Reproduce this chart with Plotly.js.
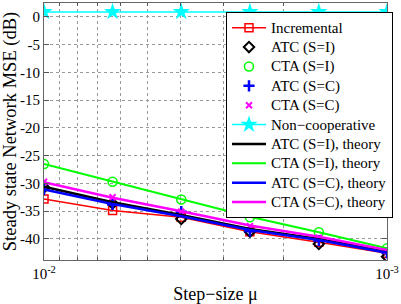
<!DOCTYPE html>
<html>
<head>
<meta charset="utf-8">
<script src="https://cdn.plot.ly/plotly-3.0.1.min.js"></script>
<style>
html,body{margin:0;padding:0;background:#fff;}
#chart{width:401px;height:304px;}
.legendtext{font-size:15px !important;}
</style>
</head>
<body>
<div id="chart"></div>
<script>
// Step sizes
const mu = [0.01, 0.00631, 0.00398, 0.00251, 0.00158, 0.001];
// Simulation results (dB)
const incremental = [-32.8, -34.9, -36.1, -38.7, -40.6, -42.6];
const atcI = [-30.7, -33.6, -36.4, -38.7, -40.9, -43.2];
const ctaI = [-26.5, -29.7, -32.9, -36.1, -38.8, -41.7];
const atcC = [-31.1, -33.8, -35.1, -38.6, -40.3, -42.5];
const ctaC = [-29.7, -32.5, -35.1, -37.7, -39.8, -42.2];
const nonCoop = [0.9, 0.9, 0.9, 0.9, 0.9, 0.9];
// Theory (dB)
const atcITheory = [-30.6, -33.4, -35.7, -38.2, -40.0, -42.3];
const ctaITheory = [-26.5, -29.7, -32.9, -36.0, -38.8, -41.7];
const atcCTheory = [-31.1, -33.7, -35.9, -38.4, -40.2, -42.5];
const ctaCTheory = [-29.8, -32.6, -35.0, -37.6, -39.6, -42.0];
// Tick labels
const xTickVals = [0.01, 0.001];
const xTickText = ['10<sup>-2</sup>', '10<sup>-3</sup>'];
const xMinorVals = [0.002, 0.003, 0.004, 0.005, 0.006, 0.007, 0.008, 0.009];
const yTickVals = [-40, -35, -30, -25, -20, -15, -10, -5, 0];
const yTickText = ['-40', '-35', '-30', '-25', '-20', '-15', '-10', '-5', '0'];

const serif = 'Liberation Serif, Times New Roman, serif';

const traces = [
  {x: mu, y: incremental, name: 'Incremental', mode: 'lines+markers',
   line: {color: '#ff0000', width: 1.5},
   marker: {symbol: 'square-open', size: 8, color: '#ff0000', line: {width: 1.5}}},
  {x: mu, y: atcI, name: 'ATC (S=I)', mode: 'markers',
   marker: {symbol: 'diamond-open', size: 8, color: '#000000', line: {width: 2}}},
  {x: mu, y: ctaI, name: 'CTA (S=I)', mode: 'markers',
   marker: {symbol: 'circle-open', size: 9, color: '#00ff00', line: {width: 1.5}}},
  {x: mu, y: atcC, name: 'ATC (S=C)', mode: 'markers',
   marker: {symbol: 'cross-thin-open', size: 8, color: '#0000ff', line: {width: 2.5, color: '#0000ff'}}},
  {x: mu, y: ctaC, name: 'CTA (S=C)', mode: 'markers',
   marker: {symbol: 'x-thin-open', size: 6, color: '#ff00ff', line: {width: 2, color: '#ff00ff'}}},
  {x: mu, y: nonCoop, name: 'Non\u2212cooperative', mode: 'lines+markers',
   line: {color: '#00ffff', width: 1.5},
   marker: {symbol: 'star', size: 13, color: '#00ffff'}},
  {x: mu, y: atcITheory, name: 'ATC (S=I), theory', mode: 'lines',
   line: {color: '#000000', width: 2.5}},
  {x: mu, y: ctaITheory, name: 'CTA (S=I), theory', mode: 'lines',
   line: {color: '#00ff00', width: 2}},
  {x: mu, y: atcCTheory, name: 'ATC (S=C), theory', mode: 'lines',
   line: {color: '#0000ff', width: 2.5}},
  {x: mu, y: ctaCTheory, name: 'CTA (S=C), theory', mode: 'lines',
   line: {color: '#ff00ff', width: 2.5}}
];

const layout = {
  width: 401, height: 304,
  margin: {l: 44, r: 14, t: 3, b: 44},
  paper_bgcolor: '#ffffff', plot_bgcolor: '#ffffff',
  font: {family: serif, size: 13, color: '#000000'},
  showlegend: true,
  legend: {x: 1.0175, xanchor: 'right', y: 0.965, yanchor: 'top',
           bgcolor: '#ffffff', bordercolor: '#000000', borderwidth: 1,
           font: {family: serif, size: 12.6, color: '#000000'}, itemwidth: 34,
           tracegroupgap: 0},
  xaxis: {type: 'log', range: [-2, -3],
          tickmode: 'array', tickvals: xTickVals, ticktext: xTickText,
          ticks: 'inside', ticklen: 5, tickcolor: '#555', tickwidth: 1,
          showline: true, linecolor: '#666', linewidth: 1, mirror: 'ticks',
          showgrid: false, zeroline: false,
          tickfont: {family: serif, size: 15},
          minor: {tickmode: 'array', tickvals: xMinorVals, ticks: 'inside', ticklen: 3,
                  tickcolor: '#555', showgrid: true, gridcolor: '#999', griddash: 'dot', gridwidth: 1},
          title: {text: 'Step\u2212size \u03bc', font: {family: serif, size: 18}, standoff: 10}},
  yaxis: {range: [-43.8, 2.5],
          tickmode: 'array', tickvals: yTickVals, ticktext: yTickText,
          ticks: 'inside', ticklen: 5, tickcolor: '#555', tickwidth: 1,
          showline: true, linecolor: '#666', linewidth: 1, mirror: 'ticks',
          showgrid: true, gridcolor: '#999', griddash: 'dot', gridwidth: 1, zeroline: false,
          tickfont: {family: serif, size: 15},
          title: {text: 'Steady state Network MSE (dB)', font: {family: serif, size: 18.5}, standoff: 2}}
};

Plotly.newPlot('chart', traces, layout, {displayModeBar: false, staticPlot: true});
</script>
</body>
</html>
